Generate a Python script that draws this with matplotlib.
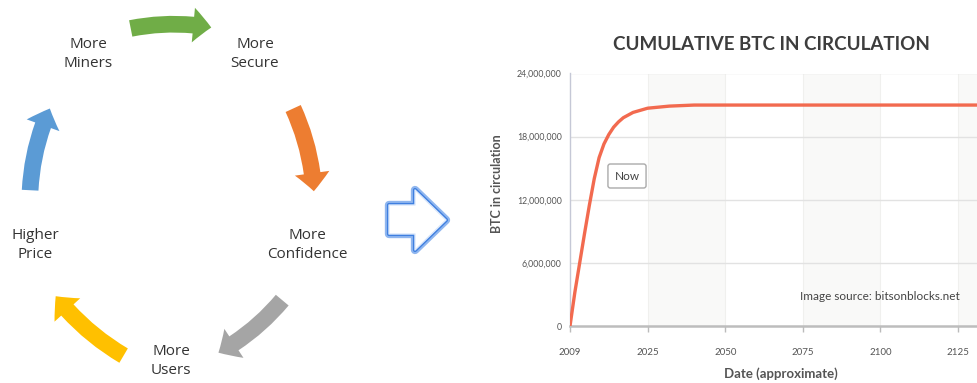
import numpy as np
import matplotlib
matplotlib.use('Agg')
import matplotlib.pyplot as plt
from matplotlib.patches import FancyArrowPatch, Polygon

W, H = 977, 383

# ---------------- data ----------------
years = [2009, 2010, 2011, 2012, 2013, 2014, 2015, 2016, 2017, 2018, 2019,
         2020, 2022, 2025, 2032, 2040, 2050, 2075, 2100, 2125, 2140]
btc = [0, 3.2e6, 6.0e6, 8.8e6, 11.5e6, 14.0e6, 16.0e6, 17.3e6, 18.2e6, 18.9e6,
       19.4e6, 19.8e6, 20.3e6, 20.7e6, 20.9e6, 21.0e6, 21.0e6, 21.0e6, 21.0e6,
       21.0e6, 21.0e6]
tick_years = [2009, 2025, 2050, 2075, 2100, 2125]
tick_labels = ['2009', '2025', '2050', '2075', '2100', '2125']
y_ticks = [0, 6e6, 12e6, 18e6, 24e6]
y_labels = ['0', '6,000,000', '12,000,000', '18,000,000', '24,000,000']
band_years = [(2025, 2050), (2075, 2100), (2125, 2150)]

cycle_labels = ['More\nMiners', 'More\nSecure', 'More\nConfidence', 'More\nUsers', 'Higher\nPrice']
cycle_colors = ['#70AD47', '#ED7D31', '#A5A5A5', '#FFC000', '#5B9BD5']

# ---------------- layout (pixels) ----------------
label_xy = [(88, 54), (255, 54), (307, 245), (171, 361), (35, 245)]
arrow_se = [((128, 29), (214, 28)), ((292, 106), (314, 194)), ((284, 298), (216, 354)),
            ((126, 357), (54, 294)), ((30, 193), (51, 106))]

plt.rcParams['font.family'] = ['Lato', 'DejaVu Sans']
fig = plt.figure(figsize=(W / 100, H / 100), dpi=100)

ov = fig.add_axes([0, 0, 1, 1])
ov.set_xlim(0, W)
ov.set_ylim(H, 0)
ov.axis('off')

txt_col = '#333333'
for lab, (x, y) in zip(cycle_labels, label_xy):
    ov.text(x, y, lab, ha='center', va='center', fontsize=11, color=txt_col,
            linespacing=1.45, family=['Open Sans', 'DejaVu Sans'])

for (s, e), c in zip(arrow_se, cycle_colors):
    a = FancyArrowPatch(s, e, connectionstyle='arc3,rad=-0.1',
                        arrowstyle='simple,head_length=13,head_width=25,tail_width=12',
                        color=c, lw=0, mutation_scale=1)
    ov.add_patch(a)

blk = [(389, 205), (415, 205), (415, 190), (446, 220), (415, 250), (415, 234), (389, 234)]
ov.add_patch(Polygon(blk, closed=True, fc='white', ec='#8fb6ef', lw=6, joinstyle='round'))
ov.add_patch(Polygon(blk, closed=True, fc='white', ec='#3f7fe0', lw=3, joinstyle='round'))
ov.add_patch(Polygon(blk, closed=True, fc='white', ec='#dbe8fb', lw=1.0, joinstyle='round'))

# ---------------- chart ----------------
anchor_years = [1993] + tick_years + [2150]
anchor_pos = [-1, 0, 1, 2, 3, 4, 5, 6]


def fwd(x):
    return np.interp(x, anchor_years, anchor_pos)


def inv(p):
    return np.interp(p, anchor_pos, anchor_years)


left, right, bottom, top = 570, 985, 326, 73.5
ax = fig.add_axes([left / W, (H - bottom) / H, (right - left) / W, (bottom - top) / H])
ax.set_xscale('function', functions=(fwd, inv))
ax.set_xlim(2009, inv((right - left) / 77.6))
ax.set_ylim(0, 24e6)
ax.set_facecolor('white')

for a0, a1 in band_years:
    ax.axvspan(a0, a1, color='#f9f9f8', lw=0, zorder=0)
for ty in tick_years[1:]:
    ax.axvline(ty, color='#f0f0ee', lw=0.8, zorder=0.5)
for yt in y_ticks[1:]:
    ax.axhline(yt, color='#e2e2e2', lw=1.0, zorder=1)

ax.plot(years, btc, color='#f26a4f', lw=2.4, solid_capstyle='round', zorder=3)

ax.set_xticks(tick_years)
ax.set_xticklabels(tick_labels)
ax.set_yticks(y_ticks)
ax.set_yticklabels(y_labels)
ax.tick_params(axis='x', length=4, width=1, color='#bbbbbb', pad=12, labelsize=7, labelcolor='#555555')
ax.tick_params(axis='y', length=0, pad=6, labelsize=6.3, labelcolor='#555555')
for sp in ['top', 'right']:
    ax.spines[sp].set_visible(False)
ax.spines['left'].set_color('#c5c8d6')
ax.spines['left'].set_linewidth(1)
ax.spines['bottom'].set_color('#bdbdbd')
ax.spines['bottom'].set_linewidth(1.8)

fig.text(771 / W, 1 - 45 / H, 'CUMULATIVE BTC IN CIRCULATION', ha='center', va='center',
         fontsize=13.5, fontweight='bold', color='#3d3d3d')
fig.text(497 / W, 1 - 184 / H, 'BTC in circulation', rotation=90, ha='center', va='center',
         fontsize=9, fontweight='bold', color='#555555')
fig.text(781 / W, 1 - 374 / H, 'Date (approximate)', ha='center', va='center',
         fontsize=9.5, fontweight='bold', color='#555555')
fig.text(880 / W, 1 - 297 / H, 'Image source: bitsonblocks.net', ha='center', va='center',
         fontsize=8.5, color='#444444')
fig.text(627 / W, 1 - 176 / H, 'Now', ha='center', va='center', fontsize=8.5, color='#444444',
         bbox=dict(boxstyle='round,pad=0.55,rounding_size=0.2', fc='white', ec='#aaaaaa', lw=1))

fig.savefig('out.png', dpi=100)
